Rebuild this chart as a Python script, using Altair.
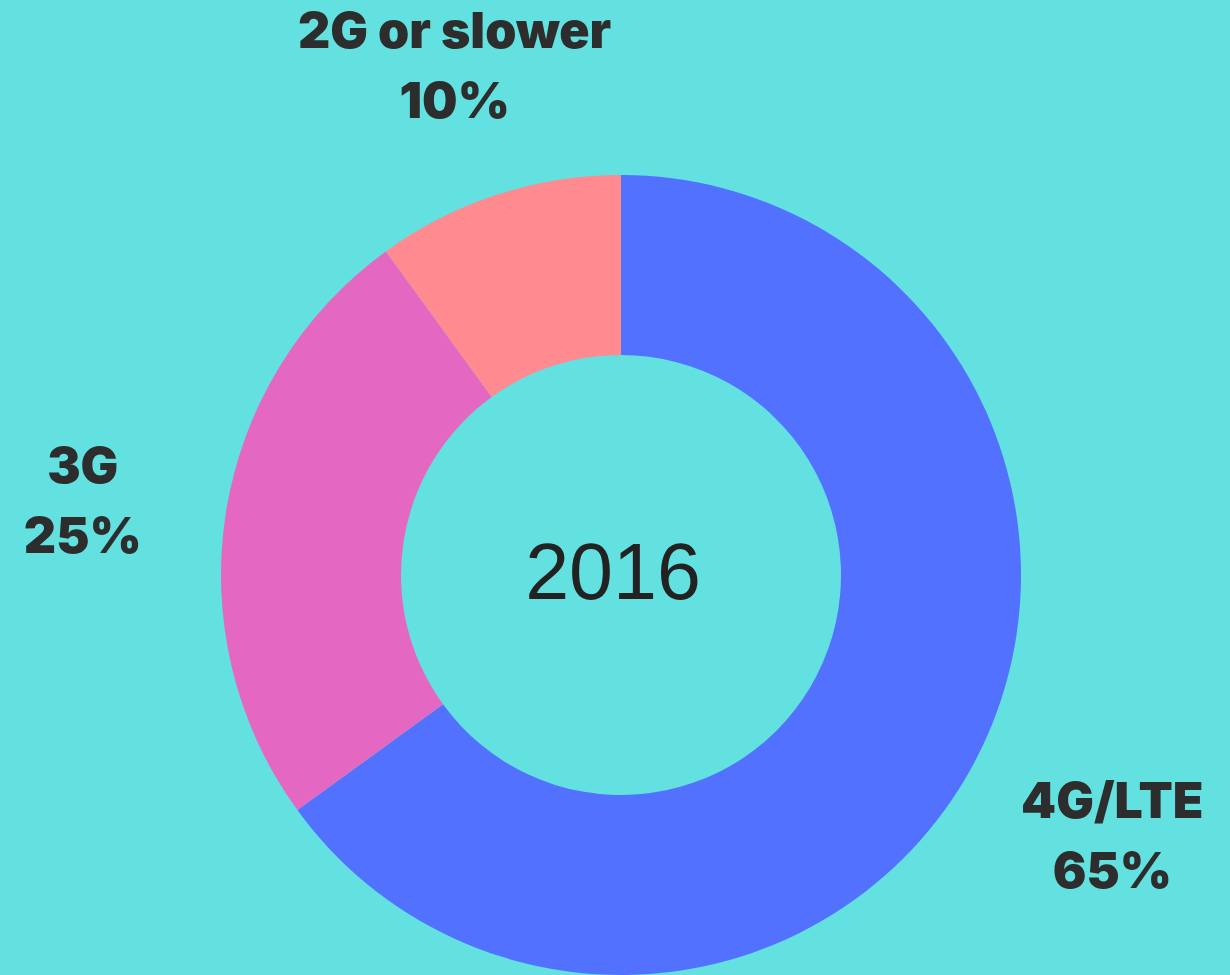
import altair as alt
import pandas as pd

categories = ["4G/LTE", "3G", "2G or slower"]
shares = [65, 25, 10]
colors = ["#5271FF", "#E468C1", "#FF8A90"]
year_label = "2016"

df = pd.DataFrame({
    "category": categories,
    "share": shares,
    "rank": list(range(len(categories))),
})
df["label"] = df["category"] + "\n" + df["share"].astype(str) + "%"

cx, cy = 621, 575

base = alt.Chart(df).encode(
    theta=alt.Theta("share:Q", stack=True),
    order=alt.Order("rank:Q"),
)

arcs = base.mark_arc(outerRadius=400, innerRadius=220, stroke=None).encode(
    color=alt.Color("category:N", scale=alt.Scale(domain=categories, range=colors), legend=None),
    x=alt.value(cx),
    y=alt.value(cy),
)

labels = base.mark_text(
    radius=548, lineBreak="\n", font="Inter", fontWeight=900, fontSize=50,
    color="#2d2d2d", lineHeight=70, align="center", baseline="middle", dy=-21, dx=3,
).encode(
    text="label:N",
    x=alt.value(cx),
    y=alt.value(cy),
)

center = alt.Chart(pd.DataFrame({"t": [year_label]})).mark_text(
    font="Liberation Sans", fontSize=79, color="#222222", align="center", baseline="middle", dx=-8,
).encode(text="t:N", x=alt.value(cx), y=alt.value(cy))

chart = (arcs + labels + center).properties(
    width=1230, height=975, background="#63E0E0",
    autosize=alt.AutoSizeParams(type="none"), padding=0,
).configure_view(stroke=None)

chart.save("out.html", embed_options={"renderer": "svg", "actions": False})
